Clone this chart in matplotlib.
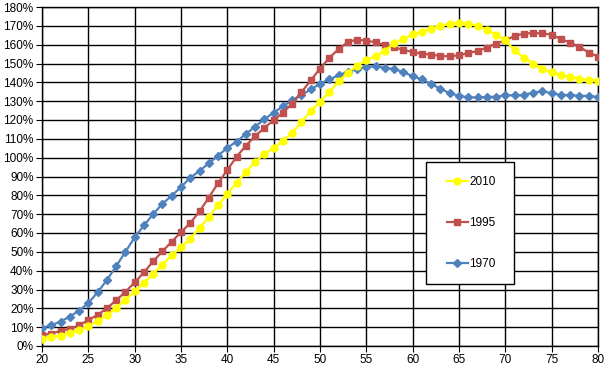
import numpy as np
import matplotlib
matplotlib.use("Agg")
import matplotlib.pyplot as plt
from matplotlib.ticker import MultipleLocator, FuncFormatter
from matplotlib.patches import Rectangle

plt.rcParams['font.family'] = ['Liberation Sans', 'DejaVu Sans']

ages = list(range(20, 81))

# values in percent
y1970 = [9.6, 11.0, 13.0, 15.6, 18.8, 22.8, 28.5, 35.0, 42.3, 50.0,
         57.7, 64.0, 70.0, 75.6, 79.8, 84.4, 89.4, 93.0, 97.0, 101.0,
         105.3, 108.5, 112.6, 116.5, 120.4, 123.9, 127.3, 130.5, 133.3, 136.2,
         139.3, 141.6, 143.7, 145.7, 147.0, 148.2, 148.5, 147.8, 147.0, 145.5,
         143.2, 141.6, 139.1, 136.6, 134.2, 132.9, 132.0, 132.0, 132.2, 132.4,
         133.1, 133.1, 133.3, 134.6, 135.3, 134.2, 133.3, 133.3, 132.8, 132.8,
         132.2]
y1995 = [5.8, 6.6, 8.0, 9.2, 11.0, 13.8, 16.5, 20.0, 24.3, 28.7,
         33.8, 39.1, 45.0, 50.3, 55.4, 60.4, 65.3, 71.5, 78.8, 86.5,
         93.5, 100.5, 106.4, 111.4, 115.9, 119.9, 123.9, 128.7, 134.8, 141.0,
         147.3, 152.9, 157.7, 161.4, 162.7, 162.1, 161.3, 159.8, 158.6, 157.2,
         156.1, 155.2, 154.7, 154.0, 153.8, 154.4, 155.5, 156.7, 158.4, 160.6,
         162.3, 164.6, 165.9, 166.2, 166.0, 165.3, 163.0, 161.1, 158.8, 155.8,
         153.7]
y2010 = [3.9, 4.8, 5.5, 7.1, 8.5, 10.4, 13.4, 16.3, 20.2, 24.6,
         29.0, 33.5, 38.4, 43.2, 48.2, 52.4, 57.0, 62.7, 68.5, 74.7,
         80.7, 86.6, 92.4, 97.7, 102.0, 105.1, 109.0, 113.1, 118.9, 124.7,
         129.7, 134.7, 140.6, 145.1, 148.7, 151.7, 154.0, 156.8, 160.7, 162.9,
         165.5, 166.9, 168.5, 170.1, 171.0, 171.5, 171.2, 169.9, 168.0, 165.3,
         162.3, 157.0, 153.1, 149.9, 147.3, 145.3, 143.7, 142.9, 142.0, 141.1,
         140.7]

fig = plt.figure(figsize=(6.1, 3.66), dpi=100)
ax = fig.add_axes([42/610, 20/366, 556/610, 339/366])

ax.plot(ages, np.array(y1970)/100, color="#4F81BD", lw=1.6, marker="D", ms=4,
        mec="#4F81BD", label="1970", zorder=3)
ax.plot(ages, np.array(y1995)/100, color="#C0504D", lw=1.6, marker="s", ms=5,
        mec="#C0504D", label="1995", zorder=3)
ax.plot(ages, np.array(y2010)/100, color="#FFFF00", lw=1.6, marker="o", ms=5,
        mec="#FFFF00", label="2010", zorder=3)

ax.set_xlim(20, 80)
ax.set_ylim(0, 1.8)
ax.xaxis.set_major_locator(MultipleLocator(5))
ax.yaxis.set_major_locator(MultipleLocator(0.1))
ax.yaxis.set_major_formatter(FuncFormatter(lambda v, p: f"{v*100:.0f}%"))
ax.grid(True, color="black", lw=1)
ax.set_axisbelow(True)
for s in ax.spines.values():
    s.set_color("black"); s.set_linewidth(1)
ax.tick_params(labelsize=8.5, length=4, colors="black", pad=2)

# legend box drawn separately so it can be wider than the entries need
ax.add_patch(Rectangle((0.6906, 0.1829), 0.1583, 0.3599, transform=ax.transAxes,
                       facecolor="white", edgecolor="black", lw=1, zorder=4))
h, l = ax.get_legend_handles_labels()
leg = ax.legend(h[::-1], l[::-1], loc="upper left", bbox_to_anchor=(0.728, 0.502),
                fontsize=8.5, frameon=False, borderpad=0, labelspacing=2.45,
                handlelength=1.8, handletextpad=0.1, borderaxespad=0)
leg.set_zorder(5)

fig.savefig("out.png", dpi=100)
